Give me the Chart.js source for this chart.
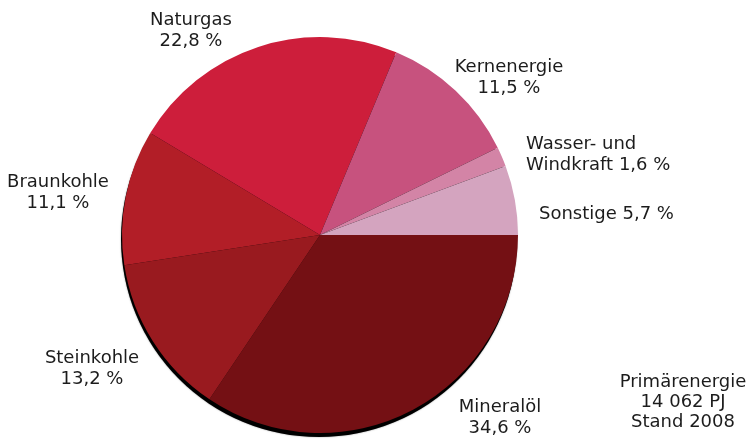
<!DOCTYPE html>
<html>
<head>
<meta charset="utf-8">
<script src="https://cdn.jsdelivr.net/npm/chart.js@4/dist/chart.umd.min.js"></script>
<style>
  html, body { margin: 0; padding: 0; background: #fff; }
  #wrap { width: 750px; height: 439px; }
</style>
</head>
<body>
<div id="wrap"><canvas id="pie" width="750" height="439"></canvas></div>
<script>
// data, clockwise from 3 o'clock
const categories = ['Mineralöl', 'Steinkohle', 'Braunkohle', 'Naturgas', 'Kernenergie', 'Wasser- und Windkraft', 'Sonstige'];
const shares = [34.6, 13.2, 11.1, 22.8, 11.5, 1.6, 5.7];
const sliceColors = ['#741014', '#991a1f', '#b21e27', '#cd1e3b', '#c7527e', '#d384a6', '#d4a4bf'];
const noteLines = ['Primärenergie', '14 062 PJ', 'Stand 2008'];

const fmt = v => v.toFixed(1).replace('.', ',') + ' %';

// label text lines per slice
const labelLines = [
    [categories[0], fmt(shares[0])],
    [categories[1], fmt(shares[1])],
    [categories[2], fmt(shares[2])],
    [categories[3], fmt(shares[3])],
    [categories[4], fmt(shares[4])],
    ['Wasser- und', 'Windkraft ' + fmt(shares[5])],
    ['Sonstige ' + fmt(shares[6])]
];

// where each label sits (x, first baseline, alignment)
const labelPlace = [
    [500, 412, 'center'],
    [92, 363, 'center'],
    [58, 187, 'center'],
    [191, 25, 'center'],
    [509, 72, 'center'],
    [526, 149, 'left'],
    [539, 219, 'left']
];

const FONT = '18px "DejaVu Sans", Verdana, sans-serif';
const LINE_H = 20.5;

const shadowPlugin = {
    id: 'pieShadow',
    beforeDatasetsDraw(chart) {
        const arc = chart.getDatasetMeta(0).data[0];
        if (!arc) return;
        const ctx = chart.ctx;
        ctx.save();
        ctx.fillStyle = '#000';
        ctx.shadowColor = 'rgba(0,0,0,0.5)';
        ctx.shadowBlur = 1.5;
        ctx.beginPath();
        ctx.arc(arc.x - 1, arc.y + 4, arc.outerRadius, 0, Math.PI * 2);
        ctx.fill();
        ctx.restore();
    }
};

const labelPlugin = {
    id: 'sliceLabels',
    afterDraw(chart) {
        const ctx = chart.ctx;
        ctx.save();
        ctx.font = FONT;
        ctx.fillStyle = '#1c1c1c';
        ctx.textBaseline = 'alphabetic';
        labelLines.forEach((lines, i) => {
            const [x, y, align] = labelPlace[i];
            ctx.textAlign = align;
            lines.forEach((t, j) => ctx.fillText(t, x, y + j * LINE_H));
        });
        ctx.textAlign = 'center';
        noteLines.forEach((t, j) => ctx.fillText(t, 683, 387 + j * 20));
        ctx.restore();
    }
};

const ctx = document.getElementById('pie').getContext('2d');
new Chart(ctx, {
    type: 'pie',
    data: {
        labels: categories,
        datasets: [{
            data: shares,
            backgroundColor: sliceColors,
            borderWidth: 0
        }]
    },
    options: {
        responsive: false,
        animation: false,
        rotation: 90,
        layout: { padding: { left: 122, right: 232, top: 37, bottom: 6 } },
        plugins: {
            legend: { display: false },
            tooltip: { enabled: false }
        }
    },
    plugins: [shadowPlugin, labelPlugin]
});
</script>
</body>
</html>
